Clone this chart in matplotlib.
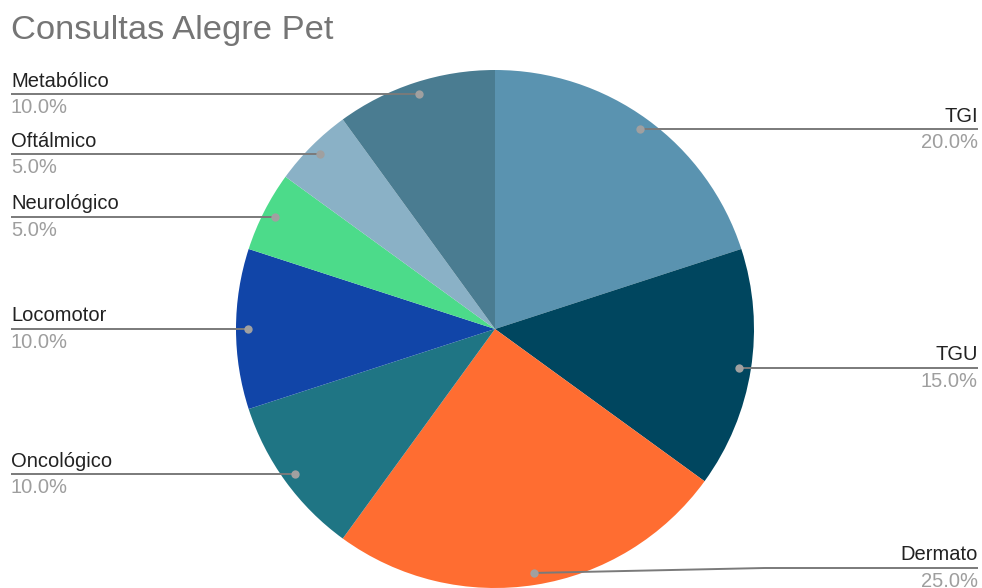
import numpy as np
import matplotlib.pyplot as plt

# Consultas por especialidade
categories = ["TGI", "TGU", "Dermato", "Oncológico", "Locomotor",
              "Neurológico", "Oftálmico", "Metabólico"]
values = [20, 15, 25, 10, 10, 5, 5, 10]
colors = ["#5a93b0", "#00465f", "#ff6d31", "#1f7584",
          "#1145a8", "#4cdb8a", "#8ab1c6", "#4a7c91"]

W, H = 982, 588
CENTER = (495, H - 329)
RADIUS = 259
DOT_R = 247
LEFT_X, RIGHT_X = 11, 978
MIN_LINE_Y = H - 568

plt.rcParams["font.family"] = ["Liberation Sans", "DejaVu Sans"]

fig = plt.figure(figsize=(W / 100, H / 100), dpi=100)
ax = fig.add_axes([0, 0, 1, 1])

wedges, _ = ax.pie(values, colors=colors, startangle=90, counterclock=False,
                   center=CENTER, radius=RADIUS,
                   wedgeprops=dict(linewidth=0))

total = sum(values)
for w, name, v in zip(wedges, categories, values):
    mid = np.deg2rad((w.theta1 + w.theta2) / 2)
    dx = CENTER[0] + DOT_R * np.cos(mid)
    dy = CENTER[1] + DOT_R * np.sin(mid)
    ly = max(dy, MIN_LINE_Y)
    right = np.cos(mid) > 0
    end_x = RIGHT_X if right else LEFT_X
    if ly != dy:
        elbow = dx + (end_x - dx) * 0.52
        xs, ys = [dx, elbow, end_x], [dy, ly, ly]
    else:
        xs, ys = [dx, end_x], [dy, ly]
    ax.plot(xs, ys, color="#7a7a7a", lw=1.4, solid_capstyle="butt", zorder=3)
    ax.plot(dx, dy, "o", ms=6, color="#a0a0a0", mec="none", zorder=4)
    ha = "right" if right else "left"
    ax.text(end_x, ly + 7.5, name, ha=ha, va="baseline", fontsize=14.5,
            color="#222222")
    ax.text(end_x, ly - 19, f"{v / total * 100:.1f}%", ha=ha,
            va="baseline", fontsize=14.5, color="#9e9e9e")

ax.text(11, H - 39, "Consultas Alegre Pet", ha="left", va="baseline",
        fontsize=24.8, color="#757575")

ax.set_xlim(0, W)
ax.set_ylim(0, H)
ax.set_aspect("equal")
ax.set_axis_off()

fig.savefig("out.png", dpi=100)
